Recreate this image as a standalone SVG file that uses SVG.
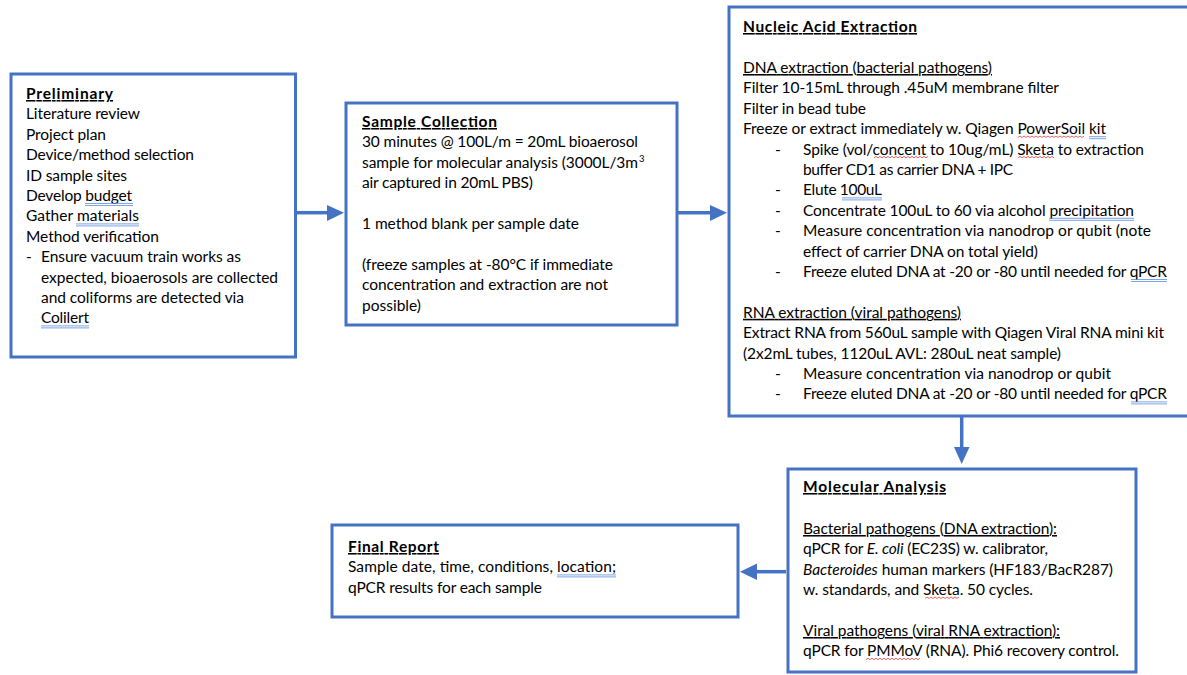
<svg xmlns="http://www.w3.org/2000/svg" width="1187" height="675" viewBox="0 0 1187 675">
<style>
.box{fill:#fff;stroke:#4472C4;stroke-width:3}
.t{font-family:Lato,"Liberation Sans",sans-serif;font-size:15.5px;fill:#000}
.b{font-weight:bold}
.u{text-decoration:underline}
.i{font-style:italic}
.sup{font-size:9.5px}
.conn{stroke:#4472C4;stroke-width:3.5;fill:none}
.head{fill:#4472C4}
.bl{stroke:#5B8DE0;stroke-width:0.8;fill:none}
.rd{stroke:#D94040;stroke-width:0.8;fill:none}
</style>
<rect width="1187" height="675" fill="#fff"/>

<g id="connectors">
  <line class="conn" x1="297" y1="212.7" x2="329" y2="212.7"/>
  <polygon class="head" points="327,205 344,212.7 327,221"/>
  <line class="conn" x1="678" y1="212.7" x2="712" y2="212.7"/>
  <polygon class="head" points="710,205 727,212.7 710,221"/>
  <line class="conn" x1="961.7" y1="417" x2="961.7" y2="449"/>
  <polygon class="head" points="954,447 969.5,447 961.7,464"/>
  <line class="conn" x1="786" y1="571.7" x2="755" y2="571.7"/>
  <polygon class="head" points="757,563.5 757,580 740,571.7"/>
</g>

<g id="preliminary">
  <rect class="box" x="11" y="74" width="284.5" height="283"/>
  <text class="t b u" x="26" y="99" textLength="87" lengthAdjust="spacing">Preliminary</text>
  <text class="t" x="26" y="119.4" textLength="114" lengthAdjust="spacing">Literature review</text>
  <text class="t" x="26" y="139.8" textLength="80" lengthAdjust="spacing">Project plan</text>
  <text class="t" x="26" y="160.2" textLength="168" lengthAdjust="spacing">Device/method selection</text>
  <text class="t" x="26" y="180.6" textLength="101" lengthAdjust="spacing">ID sample sites</text>
  <text class="t" x="26" y="201" textLength="106" lengthAdjust="spacing">Develop budget</text>
  <text class="t" x="26" y="221.4" textLength="113" lengthAdjust="spacing">Gather materials</text>
  <text class="t" x="26" y="241.8" textLength="133" lengthAdjust="spacing">Method verification</text>
  <text class="t" x="26" y="262.2">-</text>
  <text class="t" x="41" y="262.2" textLength="200" lengthAdjust="spacing">Ensure vacuum train works as</text>
  <text class="t" x="41" y="282.6" textLength="237" lengthAdjust="spacing">expected, bioaerosols are collected</text>
  <text class="t" x="41" y="303" textLength="203" lengthAdjust="spacing">and coliforms are detected via</text>
  <text class="t" x="41" y="323.4" textLength="48" lengthAdjust="spacing">Colilert</text>
  <path class="bl" d="M85,203.5H133M85,205.5H133M76,223.9H139M76,225.9H139M41,325.9H89M41,327.9H89"/>
</g>

<g id="sample-collection">
  <rect class="box" x="346" y="103" width="331" height="222"/>
  <text class="t b u" x="362" y="127" textLength="135" lengthAdjust="spacing">Sample Collection</text>
  <text class="t" x="362" y="147.4" textLength="276" lengthAdjust="spacing">30 minutes @ 100L/m = 20mL bioaerosol</text>
  <text class="t" x="362" y="167.8" textLength="276" lengthAdjust="spacing">sample for molecular analysis (3000L/3m</text>
  <text class="t sup" x="639" y="162">3</text>
  <text class="t" x="362" y="188.2" textLength="171" lengthAdjust="spacing">air captured in 20mL PBS)</text>
  <text class="t" x="362" y="229" textLength="217" lengthAdjust="spacing">1 method blank per sample date</text>
  <text class="t" x="362" y="269.8" textLength="251" lengthAdjust="spacing">(freeze samples at -80°C if immediate</text>
  <text class="t" x="362" y="290.2" textLength="246" lengthAdjust="spacing">concentration and extraction are not</text>
  <text class="t" x="362" y="310.6" textLength="59" lengthAdjust="spacing">possible)</text>
</g>

<g id="nucleic-acid-extraction">
  <rect class="box" x="729" y="7" width="470" height="409"/>
  <text class="t b u" x="743" y="32" textLength="174" lengthAdjust="spacing">Nucleic Acid Extraction</text>
  <text class="t u" x="743" y="73" textLength="249" lengthAdjust="spacing">DNA extraction (bacterial pathogens)</text>
  <text class="t" x="743" y="93.4" textLength="316" lengthAdjust="spacing">Filter 10-15mL through .45uM membrane filter</text>
  <text class="t" x="743" y="113.8" textLength="123" lengthAdjust="spacing">Filter in bead tube</text>
  <text class="t" x="743" y="134.2" textLength="363" lengthAdjust="spacing">Freeze or extract immediately w. Qiagen PowerSoil kit</text>
  <text class="t" x="775" y="154.6">-</text>
  <text class="t" x="803" y="154.6" textLength="341" lengthAdjust="spacing">Spike (vol/concent to 10ug/mL) Sketa to extraction</text>
  <text class="t" x="803" y="175" textLength="210" lengthAdjust="spacing">buffer CD1 as carrier DNA + IPC</text>
  <text class="t" x="775" y="195.4">-</text>
  <text class="t" x="803" y="195.4" textLength="79" lengthAdjust="spacing">Elute 100uL</text>
  <text class="t" x="775" y="215.8">-</text>
  <text class="t" x="803" y="215.8" textLength="331" lengthAdjust="spacing">Concentrate 100uL to 60 via alcohol precipitation</text>
  <text class="t" x="775" y="236.2">-</text>
  <text class="t" x="803" y="236.2" textLength="348" lengthAdjust="spacing">Measure concentration via nanodrop or qubit (note</text>
  <text class="t" x="803" y="256.6" textLength="235" lengthAdjust="spacing">effect of carrier DNA on total yield)</text>
  <text class="t" x="775" y="277">-</text>
  <text class="t" x="803" y="277" textLength="364" lengthAdjust="spacing">Freeze eluted DNA at -20 or -80 until needed for qPCR</text>
  <text class="t u" x="743" y="317.8" textLength="218" lengthAdjust="spacing">RNA extraction (viral pathogens)</text>
  <text class="t" x="743" y="338.2" textLength="421" lengthAdjust="spacing">Extract RNA from 560uL sample with Qiagen Viral RNA mini kit</text>
  <text class="t" x="743" y="358.6" textLength="318" lengthAdjust="spacing">(2x2mL tubes, 1120uL AVL: 280uL neat sample)</text>
  <text class="t" x="775" y="379">-</text>
  <text class="t" x="803" y="379" textLength="308" lengthAdjust="spacing">Measure concentration via nanodrop or qubit</text>
  <text class="t" x="775" y="399.4">-</text>
  <text class="t" x="803" y="399.4" textLength="364" lengthAdjust="spacing">Freeze eluted DNA at -20 or -80 until needed for qPCR</text>
  <path class="bl" d="M1089,136.7H1106M1089,138.7H1106M842,197.9H882M842,199.9H882M1049,218.3H1134M1049,220.3H1134M1131,279.5H1167M1131,281.5H1167M1131,401.9H1167M1131,403.9H1167"/>
  <path class="rd" d="M1018,137.5l2,-1.5l2,1.5l2,-1.5l2,1.5l2,-1.5l2,1.5l2,-1.5l2,1.5l2,-1.5l2,1.5l2,-1.5l2,1.5l2,-1.5l2,1.5l2,-1.5l2,1.5l2,-1.5l2,1.5l2,-1.5l2,1.5l2,-1.5l2,1.5l2,-1.5l2,1.5l2,-1.5l2,1.5l2,-1.5l2,1.5l2,-1.5l2,1.5l2,-1.5l2,1.5l2,-1.5"/>
  <path class="rd" d="M874,157.9l2,-1.5l2,1.5l2,-1.5l2,1.5l2,-1.5l2,1.5l2,-1.5l2,1.5l2,-1.5l2,1.5l2,-1.5l2,1.5l2,-1.5l2,1.5l2,-1.5l2,1.5l2,-1.5l2,1.5l2,-1.5l2,1.5l2,-1.5l2,1.5l2,-1.5l2,1.5l2,-1.5l2,1.5l2,-1.5"/>
  <path class="rd" d="M1018,157.9l2,-1.5l2,1.5l2,-1.5l2,1.5l2,-1.5l2,1.5l2,-1.5l2,1.5l2,-1.5l2,1.5l2,-1.5l2,1.5l2,-1.5l2,1.5l2,-1.5l2,1.5l2,-1.5l2,1.5"/>
</g>

<g id="molecular-analysis">
  <rect class="box" x="788" y="469" width="348" height="203"/>
  <text class="t b u" x="803" y="492" textLength="143" lengthAdjust="spacing">Molecular Analysis</text>
  <text class="t u" x="803" y="534" textLength="254" lengthAdjust="spacing">Bacterial pathogens (DNA extraction):</text>
  <text class="t" x="803" y="554.4" textLength="245" lengthAdjust="spacing">qPCR for <tspan class="i">E. coli</tspan> (EC23S) w. calibrator,</text>
  <text class="t" x="803" y="574.8" textLength="310" lengthAdjust="spacing"><tspan class="i">Bacteroides</tspan> human markers (HF183/BacR287)</text>
  <text class="t" x="803" y="595.2" textLength="230" lengthAdjust="spacing">w. standards, and Sketa. 50 cycles.</text>
  <text class="t u" x="803" y="636" textLength="257" lengthAdjust="spacing">Viral pathogens (viral RNA extraction):</text>
  <text class="t" x="803" y="656.4" textLength="316" lengthAdjust="spacing">qPCR for PMMoV (RNA). Phi6 recovery control.</text>
  <path class="rd" d="M925,598.5l2,-1.5l2,1.5l2,-1.5l2,1.5l2,-1.5l2,1.5l2,-1.5l2,1.5l2,-1.5l2,1.5l2,-1.5l2,1.5l2,-1.5l2,1.5l2,-1.5l2,1.5l2,-1.5"/>
  <path class="rd" d="M866,659.7l2,-1.5l2,1.5l2,-1.5l2,1.5l2,-1.5l2,1.5l2,-1.5l2,1.5l2,-1.5l2,1.5l2,-1.5l2,1.5l2,-1.5l2,1.5l2,-1.5l2,1.5l2,-1.5l2,1.5l2,-1.5l2,1.5l2,-1.5l2,1.5l2,-1.5l2,1.5l2,-1.5l2,1.5l2,-1.5"/>
</g>

<g id="final-report">
  <rect class="box" x="332" y="525" width="406" height="92"/>
  <text class="t b u" x="348" y="552" textLength="91" lengthAdjust="spacing">Final Report</text>
  <text class="t" x="348" y="572.4" textLength="268" lengthAdjust="spacing">Sample date, time, conditions, location;</text>
  <text class="t" x="348" y="592.8" textLength="194" lengthAdjust="spacing">qPCR results for each sample</text>
  <path class="bl" d="M557,574.9H616M557,576.9H616"/>
</g>
</svg>
